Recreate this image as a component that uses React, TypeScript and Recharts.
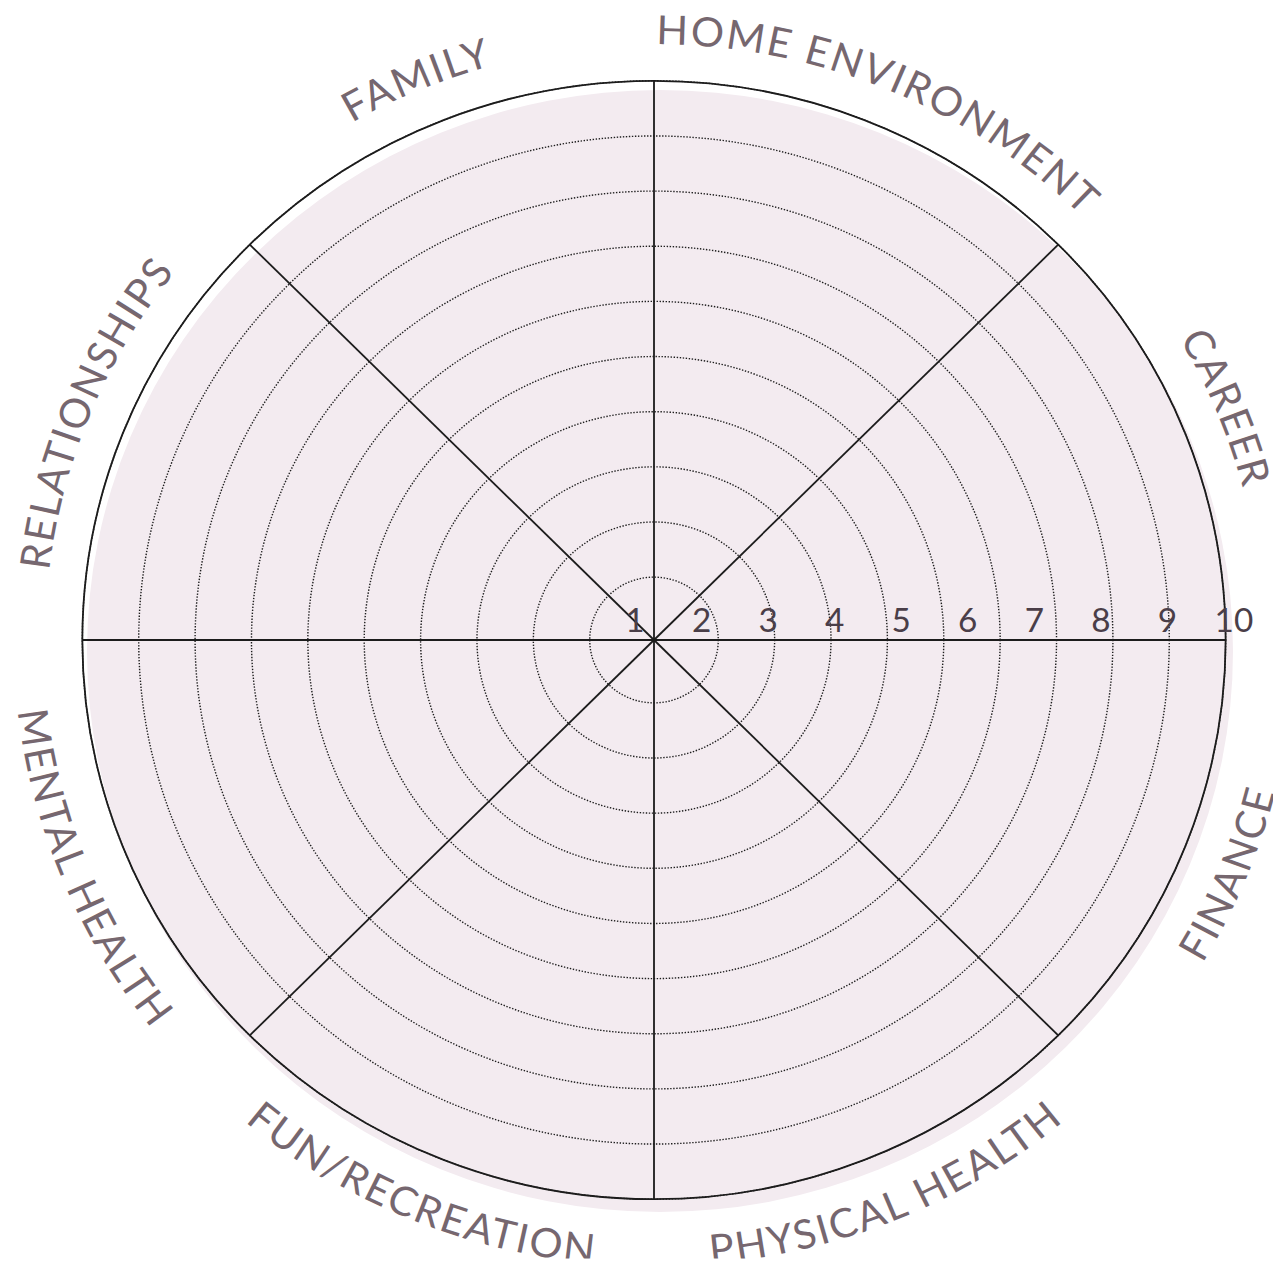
import React from 'react';
import { RadarChart, PolarGrid, PolarAngleAxis, PolarRadiusAxis } from 'recharts';

// ---- data ----
const categories = [
  'FAMILY',
  'HOME ENVIRONMENT',
  'CAREER',
  'FINANCE',
  'PHYSICAL HEALTH',
  'FUN/RECREATION',
  'MENTAL HEALTH',
  'RELATIONSHIPS',
];
const ringValues = [1, 2, 3, 4, 5, 6, 7, 8, 9, 10];
const spokeAngles = [0, 45, 90, 135, 180, 225, 270, 315];

const data = categories.map((c) => ({ area: c }));

// ---- layout ----
const W = 1265;
const H = 1258;
const CX = 646;
const CY = 632;
const OUTER = 566;
const RAD = Math.PI / 180;

const LABEL_COLOR = '#76676f';
const NUM_COLOR = '#4a3e48';
const FONT = 'Lato, "Open Sans", sans-serif';

const AngleTick = (props: any) => {
  const { payload, index } = props;
  const a: number = payload.coordinate;
  const top = Math.sin(a * RAD) > 0;
  const R = top ? 603 : 634;
  const span = 70;
  const p = (deg: number) => [CX + R * Math.cos(deg * RAD), CY - R * Math.sin(deg * RAD)];
  let d: string;
  if (top) {
    const [x1, y1] = p(a + span);
    const [x2, y2] = p(a - span);
    d = `M${x1},${y1} A${R},${R} 0 0 1 ${x2},${y2}`;
  } else {
    const [x1, y1] = p(a - span);
    const [x2, y2] = p(a + span);
    d = `M${x1},${y1} A${R},${R} 0 0 0 ${x2},${y2}`;
  }
  const id = `wheel-label-arc-${index}`;
  return (
    <g>
      <path id={id} d={d} fill="none" stroke="none" />
      <text fill={LABEL_COLOR} fontFamily={FONT} fontSize={41} letterSpacing={2}>
        <textPath href={`#${id}`} startOffset="50%" textAnchor="middle">
          {payload.value}
        </textPath>
      </text>
    </g>
  );
};

const RadiusTick = (props: any) => {
  const { x, y, payload } = props;
  const r = x - CX;
  const lx = CX + r * 1.1804 - 93.9;
  return (
    <text x={lx} y={y - 8} textAnchor="middle" fill={NUM_COLOR} fontFamily={FONT} fontSize={33}>
      {payload.value}
    </text>
  );
};

export default function App() {
  return (
    <div style={{ position: 'relative', width: W, height: H }}>
      <div
        style={{
          position: 'absolute',
          left: 79,
          top: 82,
          width: 1146,
          height: 1122,
          borderRadius: '50%',
          background: '#f3ebf0',
        }}
      />
      <div
        style={{
          position: 'absolute',
          left: 0,
          top: 0,
          transform: 'scale(1.01, 0.988)',
          transformOrigin: `${CX}px ${CY}px`,
        }}
      >
        <RadarChart
          width={W}
          height={H}
          data={data}
          cx={CX}
          cy={CY}
          innerRadius={0}
          outerRadius={OUTER}
          startAngle={112.5}
          endAngle={-247.5}
          margin={{ top: 0, right: 0, bottom: 0, left: 0 }}
        >
          <PolarGrid
            gridType="circle"
            radialLines={false}
            stroke="#1e1e1e"
            strokeWidth={1.4}
            strokeDasharray="1.4 1.6"
          />
          <PolarGrid
            gridType="circle"
            polarAngles={spokeAngles}
            polarRadius={[OUTER]}
            stroke="#1c1c1c"
            strokeWidth={1.8}
          />
          <PolarAngleAxis
            dataKey="area"
            axisLine={false}
            tickLine={false}
            tick={AngleTick}
          />
          <PolarRadiusAxis
            type="number"
            angle={0}
            domain={[-0.14, 10]}
            allowDataOverflow
            ticks={ringValues}
            axisLine={false}
            tick={RadiusTick}
          />
        </RadarChart>
      </div>
    </div>
  );
}
